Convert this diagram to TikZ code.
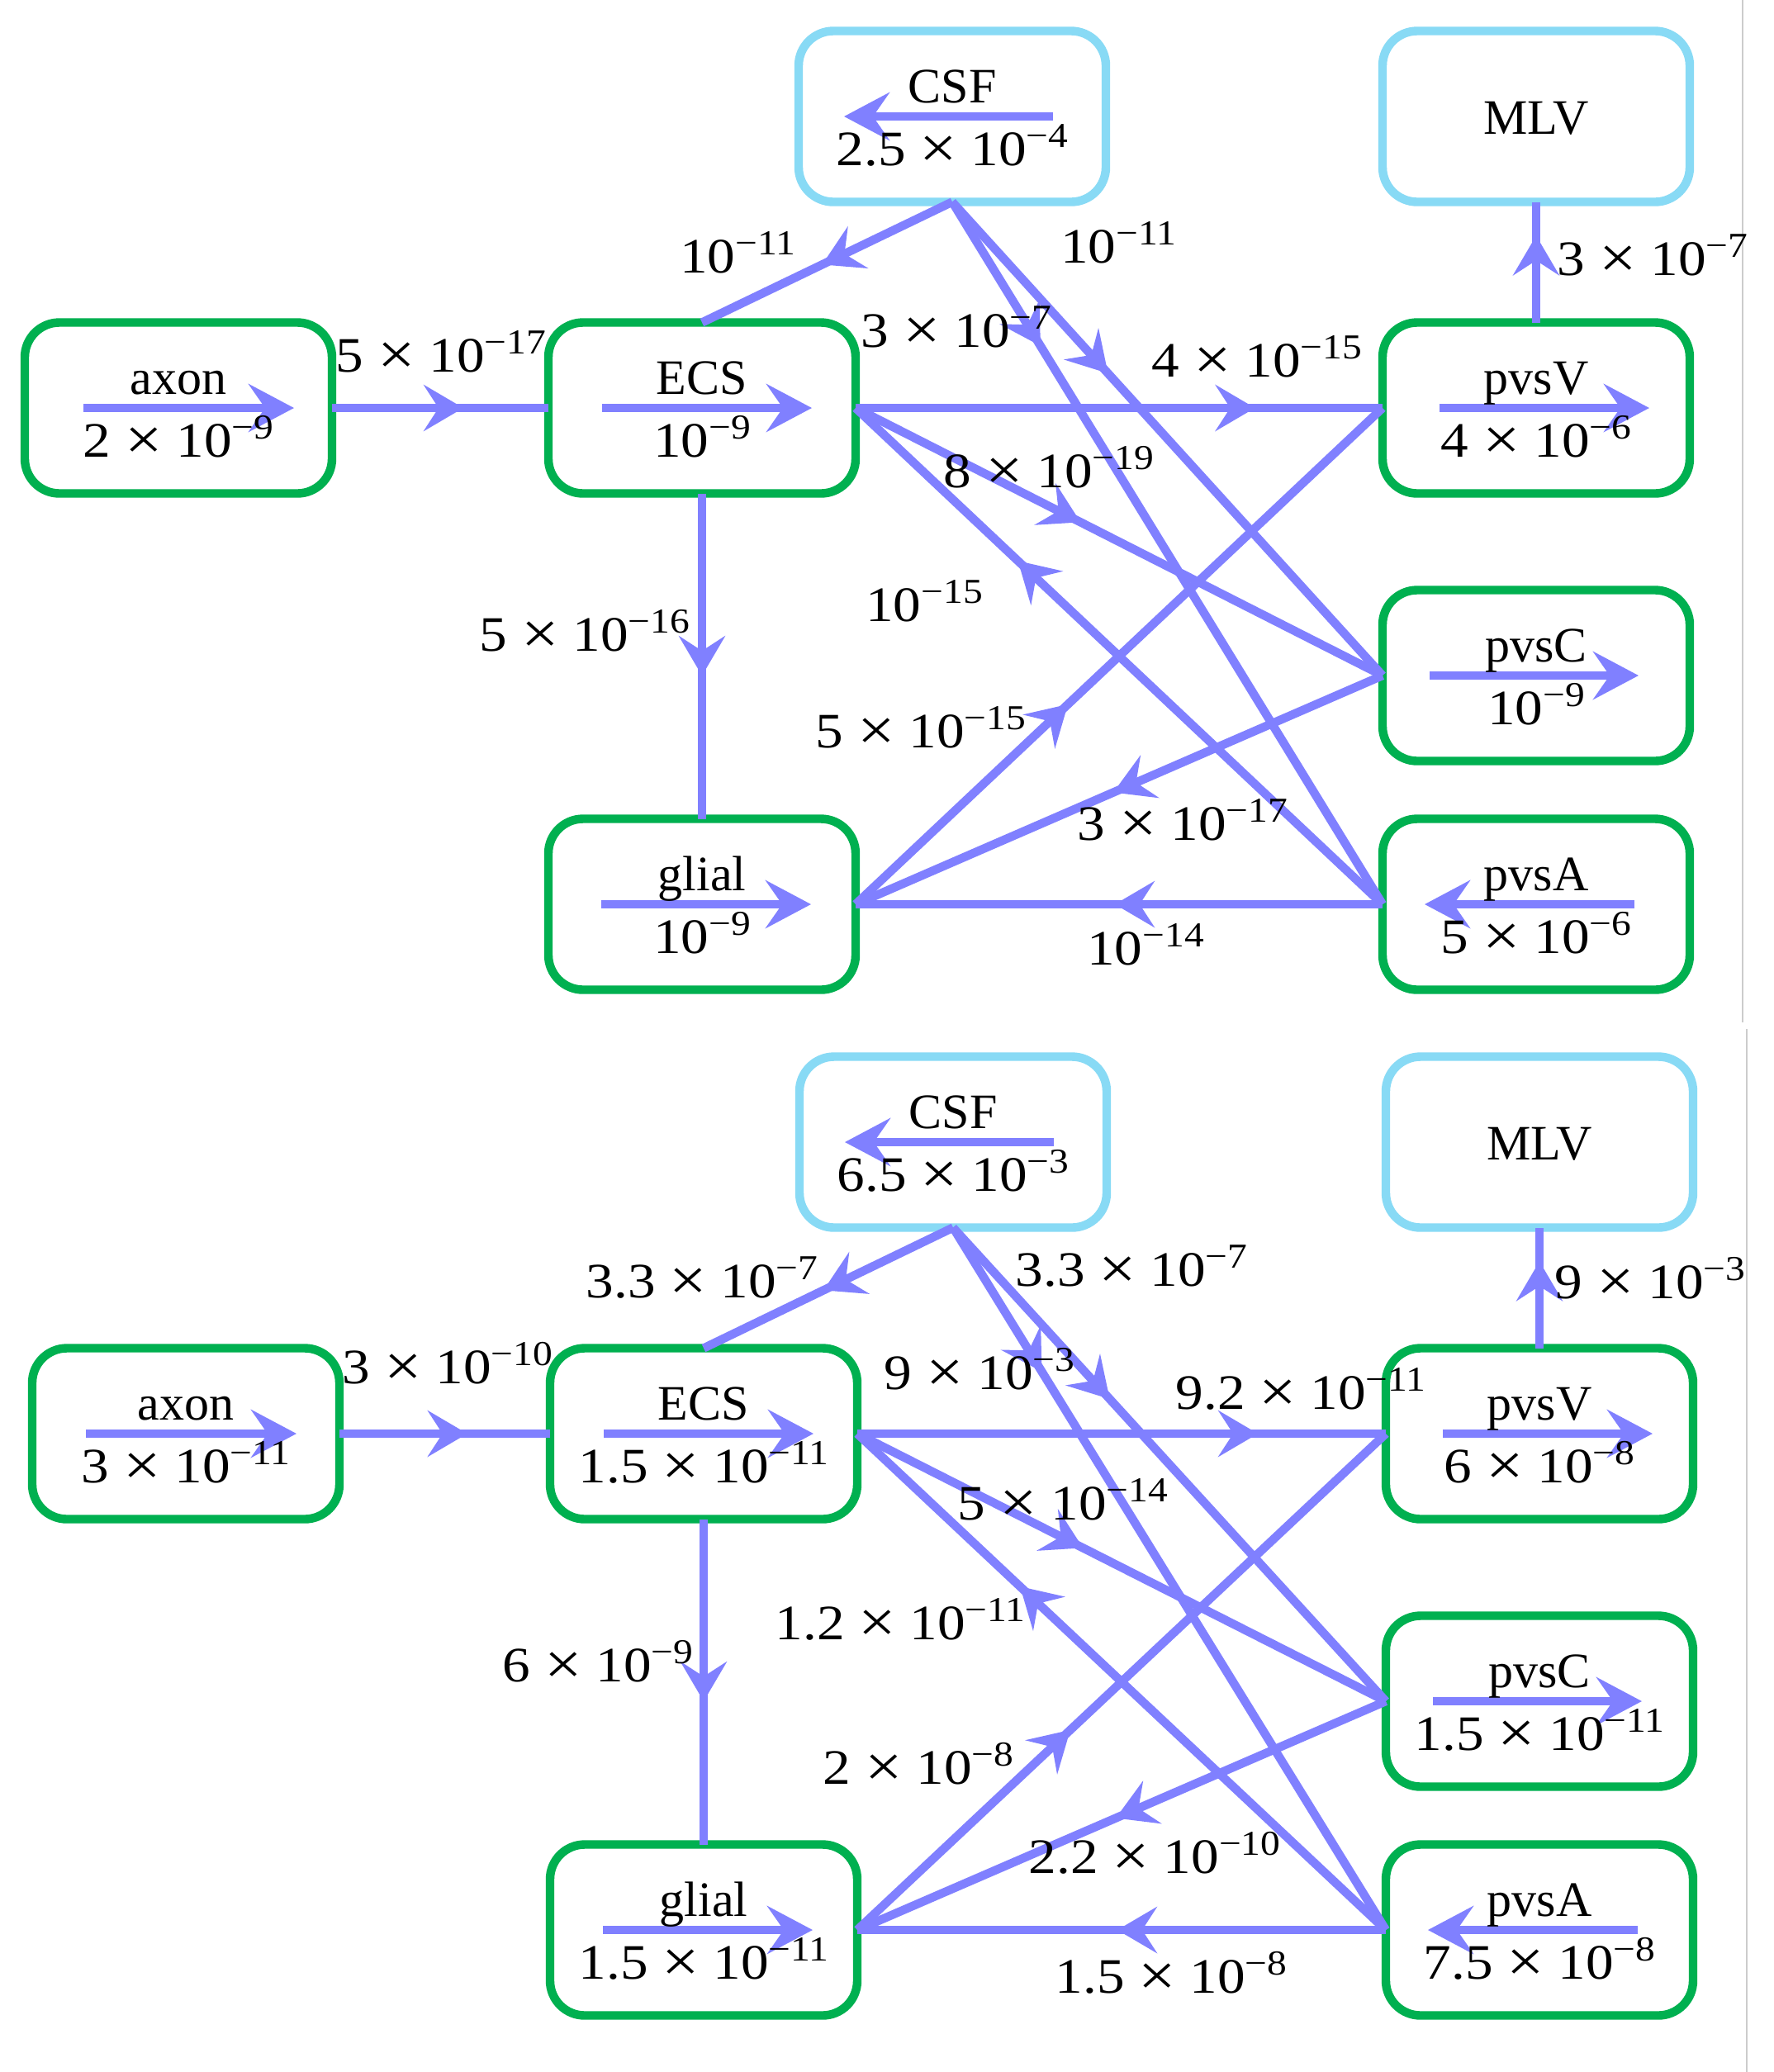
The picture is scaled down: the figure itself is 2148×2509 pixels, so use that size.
\documentclass[tikz,border=0pt]{standalone}
\usepackage{fontspec}
\usepackage{graphicx}
\setmainfont{Liberation Serif}
\newfontfamily\numfont[FakeStretch=1.12]{Liberation Serif}
\usetikzlibrary{arrows.meta,decorations.markings,calc}
\definecolor{boxgreen}{HTML}{00B050}
\definecolor{boxblue}{HTML}{88DAF5}
\definecolor{flow}{HTML}{8080FF}
\newcommand{\pwr}[1]{10\raisebox{5.5pt}{\fontsize{10.6}{12}\selectfont −#1}}
\newcommand{\sci}[2]{#1 \raisebox{-0.9pt}{\fontsize{18}{18}\selectfont ×} \pwr{#2}}
\tikzset{
  gbox/.style={draw=boxgreen, line width=2.6pt, rounded corners=10.5pt, minimum width=93pt, minimum height=51.75pt, inner sep=0pt, outer sep=0pt},
  bbox/.style={gbox, draw=boxblue},
  nametxt/.style={font=\fontsize{15}{18}\selectfont, inner sep=0pt, anchor=base},
  numtxt/.style={font=\fontsize{15}{18}\selectfont\numfont, inner sep=0pt, anchor=base},
  flowline/.style={color=flow, line width=2.6pt},
  inarrow/.style={color=flow, line width=2.6pt, -{Stealth[length=13.75pt,width=14.5pt,inset=5pt]}},
  midarr/.style={postaction={decorate}, decoration={markings, mark=at position #1 with {\arrow{Stealth[length=12pt,width=14pt,inset=4.5pt]}}}}
}
\begin{document}
\begin{tikzpicture}[x=0.25pt, y=-0.25pt]
\useasboundingbox (0,0) rectangle (2148,2509);
\fill[white] (0,0) rectangle (2148,2509);
% faint separators on the right
\draw[black!20, line width=0.35pt] (2110,0) -- (2110,1238);
\draw[black!20, line width=0.35pt] (2115,1246) -- (2115,2509);

% ================= TOP PANEL =================
\node[gbox] (tAxon) at (216,494) {};
\node[gbox] (tECS) at (850,494) {};
\node[bbox] (tCSF) at (1153,141) {};
\node[bbox] (tMLV) at (1860,141) {};
\node[gbox] (tpvsV) at (1860,494) {};
\node[gbox] (tpvsC) at (1860,818) {};
\node[gbox] (tglial) at (850,1095) {};
\node[gbox] (tpvsA) at (1860,1095) {};

% connectors
\draw[flowline, midarr=0.607] (tAxon.east) -- (tECS.west);
\draw[flowline, midarr=0.52] (tCSF.south) -- (tECS.north);
\draw[flowline, midarr=0.56] (tECS.south) -- (tglial.north);
\draw[flowline, midarr=0.758] (tECS.east) -- (tpvsV.west);
\draw[flowline, midarr=0.205] (tCSF.south) -- (tpvsA.west);
\draw[flowline, midarr=0.362] (tCSF.south) -- (tpvsC.west);
\draw[flowline, midarr=0.427] (tECS.east) -- (tpvsC.west);
\draw[flowline, midarr=0.692] (tpvsA.west) -- (tECS.east);
\draw[flowline, midarr=0.403] (tglial.east) -- (tpvsV.west);
\draw[flowline, midarr=0.511] (tpvsC.west) -- (tglial.east);
\draw[flowline, midarr=0.508] (tpvsA.west) -- (tglial.east);
\draw[flowline, midarr=0.72] (tpvsV.north) -- (tMLV.south);

% inner arrows
\draw[inarrow] ($(tAxon)+(-115,0)$) -- ($(tAxon)+(140,0)$);
\draw[inarrow] ($(tECS)+(-121,0)$) -- ($(tECS)+(133,0)$);
\draw[inarrow] ($(tCSF)+(122,0)$) -- ($(tCSF)+(-131,0)$);
\draw[inarrow] ($(tpvsV)+(-117,0)$) -- ($(tpvsV)+(137,0)$);
\draw[inarrow] ($(tpvsC)+(-129,0)$) -- ($(tpvsC)+(124,0)$);
\draw[inarrow] ($(tglial)+(-122,0)$) -- ($(tglial)+(132,0)$);
\draw[inarrow] ($(tpvsA)+(119,0)$) -- ($(tpvsA)+(-135,0)$);

% box texts
\node[nametxt] (tAxonN) at ($(tAxon)+(0,-17)$) {axon};
\node[numtxt] (tAxonV) at ($(tAxon)+(0,59)$) {\sci{2}{9}};
\node[nametxt] (tECSN) at ($(tECS)+(0,-17)$) {ECS};
\node[numtxt] (tECSV) at ($(tECS)+(0,59)$) {\pwr{9}};
\node[nametxt] (tCSFN) at ($(tCSF)+(0,-17)$) {CSF};
\node[numtxt] (tCSFV) at ($(tCSF)+(0,59)$) {\sci{2.5}{4}};
\node[nametxt] (tMLVN) at ($(tMLV)+(0,21)$) {MLV};
\node[nametxt] (tpvsVN) at ($(tpvsV)+(0,-17)$) {pvsV};
\node[numtxt] (tpvsVV) at ($(tpvsV)+(0,59)$) {\sci{4}{6}};
\node[nametxt] (tpvsCN) at ($(tpvsC)+(0,-17)$) {pvsC};
\node[numtxt] (tpvsCV) at ($(tpvsC)+(0,59)$) {\pwr{9}};
\node[nametxt] (tglialN) at ($(tglial)+(0,-17)$) {glial};
\node[numtxt] (tglialV) at ($(tglial)+(0,59)$) {\pwr{9}};
\node[nametxt] (tpvsAN) at ($(tpvsA)+(0,-17)$) {pvsA};
\node[numtxt] (tpvsAV) at ($(tpvsA)+(0,59)$) {\sci{5}{6}};

% edge labels
\node[numtxt] (tl1) at (534,450) {\sci{5}{17}};
\node[numtxt] (tl2) at (893,330) {\pwr{11}};
\node[numtxt] (tl3) at (1354,318) {\pwr{11}};
\node[numtxt] (tl4) at (1158,420) {\sci{3}{7}};
\node[numtxt] (tl5) at (1522,456) {\sci{4}{15}};
\node[numtxt] (tl6) at (1270,590) {\sci{8}{19}};
\node[numtxt] (tl7) at (1119,752) {\pwr{15}};
\node[numtxt] (tl8) at (708,788) {\sci{5}{16}};
\node[numtxt] (tl9) at (1115,905) {\sci{5}{15}};
\node[numtxt] (tl10) at (1432,1017) {\sci{3}{17}};
\node[numtxt] (tl11) at (1387,1168) {\pwr{14}};
\node[numtxt] (tl12) at (2001,333) {\sci{3}{7}};

% ================= BOTTOM PANEL =================
\node[gbox] (bAxon) at (225,1736) {};
\node[gbox] (bECS) at (852,1736) {};
\node[bbox] (bCSF) at (1154,1383) {};
\node[bbox] (bMLV) at (1864,1383) {};
\node[gbox] (bpvsV) at (1864,1736) {};
\node[gbox] (bpvsC) at (1864,2060) {};
\node[gbox] (bglial) at (852,2337) {};
\node[gbox] (bpvsA) at (1864,2337) {};

\draw[flowline, midarr=0.607] (bAxon.east) -- (bECS.west);
\draw[flowline, midarr=0.52] (bCSF.south) -- (bECS.north);
\draw[flowline, midarr=0.56] (bECS.south) -- (bglial.north);
\draw[flowline, midarr=0.758] (bECS.east) -- (bpvsV.west);
\draw[flowline, midarr=0.205] (bCSF.south) -- (bpvsA.west);
\draw[flowline, midarr=0.362] (bCSF.south) -- (bpvsC.west);
\draw[flowline, midarr=0.427] (bECS.east) -- (bpvsC.west);
\draw[flowline, midarr=0.692] (bpvsA.west) -- (bECS.east);
\draw[flowline, midarr=0.403] (bglial.east) -- (bpvsV.west);
\draw[flowline, midarr=0.511] (bpvsC.west) -- (bglial.east);
\draw[flowline, midarr=0.508] (bpvsA.west) -- (bglial.east);
\draw[flowline, midarr=0.72] (bpvsV.north) -- (bMLV.south);

\draw[inarrow] ($(bAxon)+(-121,0)$) -- ($(bAxon)+(134,0)$);
\draw[inarrow] ($(bECS)+(-121,0)$) -- ($(bECS)+(133,0)$);
\draw[inarrow] ($(bCSF)+(122,0)$) -- ($(bCSF)+(-131,0)$);
\draw[inarrow] ($(bpvsV)+(-117,0)$) -- ($(bpvsV)+(137,0)$);
\draw[inarrow] ($(bpvsC)+(-129,0)$) -- ($(bpvsC)+(124,0)$);
\draw[inarrow] ($(bglial)+(-122,0)$) -- ($(bglial)+(132,0)$);
\draw[inarrow] ($(bpvsA)+(119,0)$) -- ($(bpvsA)+(-135,0)$);

\node[nametxt] (bAxonN) at ($(bAxon)+(0,-17)$) {axon};
\node[numtxt] (bAxonV) at ($(bAxon)+(0,59)$) {\sci{3}{11}};
\node[nametxt] (bECSN) at ($(bECS)+(0,-17)$) {ECS};
\node[numtxt] (bECSV) at ($(bECS)+(0,59)$) {\sci{1.5}{11}};
\node[nametxt] (bCSFN) at ($(bCSF)+(0,-17)$) {CSF};
\node[numtxt] (bCSFV) at ($(bCSF)+(0,59)$) {\sci{6.5}{3}};
\node[nametxt] (bMLVN) at ($(bMLV)+(0,21)$) {MLV};
\node[nametxt] (bpvsVN) at ($(bpvsV)+(0,-17)$) {pvsV};
\node[numtxt] (bpvsVV) at ($(bpvsV)+(0,59)$) {\sci{6}{8}};
\node[nametxt] (bpvsCN) at ($(bpvsC)+(0,-17)$) {pvsC};
\node[numtxt] (bpvsCV) at ($(bpvsC)+(0,59)$) {\sci{1.5}{11}};
\node[nametxt] (bglialN) at ($(bglial)+(0,-17)$) {glial};
\node[numtxt] (bglialV) at ($(bglial)+(0,59)$) {\sci{1.5}{11}};
\node[nametxt] (bpvsAN) at ($(bpvsA)+(0,-17)$) {pvsA};
\node[numtxt] (bpvsAV) at ($(bpvsA)+(0,59)$) {\sci{7.5}{8}};

\node[numtxt] (bl1) at (542,1675) {\sci{3}{10}};
\node[numtxt] (bl2) at (850,1571) {\sci{3.3}{7}};
\node[numtxt] (bl3) at (1370,1557) {\sci{3.3}{7}};
\node[numtxt] (bl4) at (1186,1682) {\sci{9}{3}};
\node[numtxt] (bl5) at (1575,1706) {\sci{9.2}{11}};
\node[numtxt] (bl6) at (1287,1840) {\sci{5}{14}};
\node[numtxt] (bl7) at (1090,1985) {\sci{1.2}{11}};
\node[numtxt] (bl8) at (724,2036) {\sci{6}{9}};
\node[numtxt] (bl9) at (1112,2160) {\sci{2}{8}};
\node[numtxt] (bl10) at (1398,2268) {\sci{2.2}{10}};
\node[numtxt] (bl11) at (1418,2413) {\sci{1.5}{8}};
\node[numtxt] (bl12) at (1998,1572) {\sci{9}{3}};
\end{tikzpicture}
\end{document}
